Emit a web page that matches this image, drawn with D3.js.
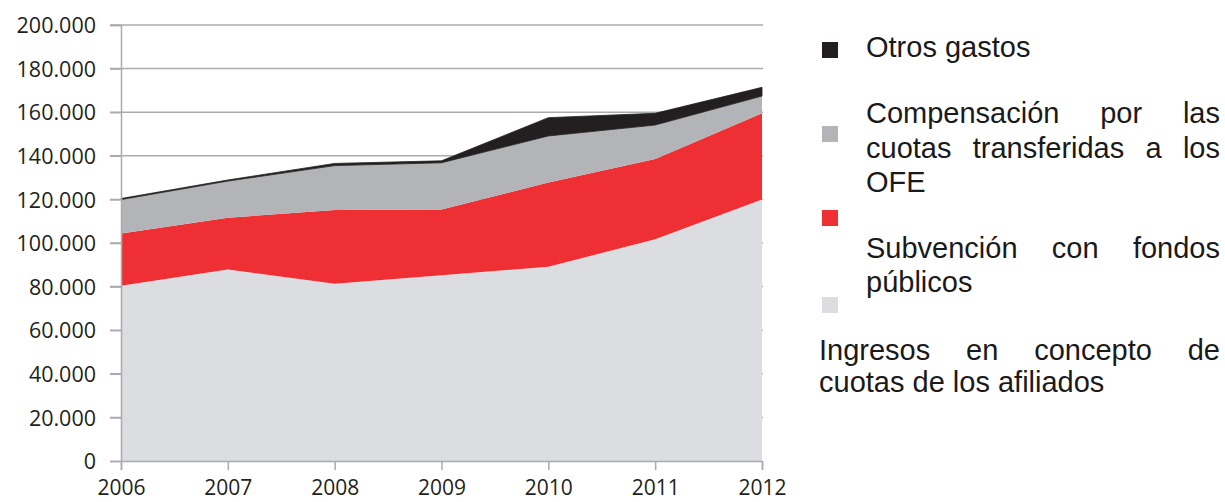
<!DOCTYPE html>
<html><head><meta charset="utf-8">
<script src="https://cdn.jsdelivr.net/npm/d3@7"></script>
<style>
html,body{margin:0;padding:0;background:#fff;}
svg{display:block;}
</style></head>
<body>
<svg id="chart" width="1225" height="502"></svg>
<script>
// ---- data ----
const years = [2006, 2007, 2008, 2009, 2010, 2011, 2012];
const ingresos     = [80400, 87900, 81300, 85200, 89100, 101700, 120000];
const subvencion   = [24000, 23700, 33800, 30200, 38600, 36800, 39500];
const compensacion = [15500, 16800, 20400, 21400, 21400, 15600, 7900];
const otros        = [500, 500, 1000, 900, 8400, 5400, 4000];
const yTicks = [0, 20000, 40000, 60000, 80000, 100000, 120000, 140000, 160000, 180000, 200000];
const seriesKeys = ["ingresos", "subvencion", "compensacion", "otros"];
const seriesColors = {ingresos: "#dcdde0", subvencion: "#ee3035", compensacion: "#b3b4b7", otros: "#231f20"};
const legendItems = [
  {key: "otros", lines: [["Otros gastos", false]]},
  {key: "compensacion", lines: [["Compensación por las", true], ["cuotas transferidas a los", true], ["OFE", false]]},
  {key: "subvencion", lines: [["Subvención con fondos", true], ["públicos", false]]},
  {key: "ingresos", lines: [["Ingresos en concepto de", true], ["cuotas de los afiliados", false]]}
];

// ---- build table ----
const table = years.map((y, i) => ({
  year: y, ingresos: ingresos[i], subvencion: subvencion[i],
  compensacion: compensacion[i], otros: otros[i]
}));

const svg = d3.select("#chart");
const x = d3.scaleLinear().domain([2006, 2012]).range([121, 762]);
const y = d3.scaleLinear().domain([0, 200000]).range([461, 25]);
const loc = d3.formatLocale({decimal: ",", thousands: ".", grouping: [3], currency: ["", ""]});
const fmt = loc.format(",");

const gridColor = "#a9abae";

// gridlines
svg.append("g").selectAll("line").data(yTicks.filter(d => d > 0)).join("line")
  .attr("x1", 110).attr("x2", 763)
  .attr("y1", d => y(d)).attr("y2", d => y(d))
  .attr("stroke", gridColor).attr("stroke-width", 1.5);

// areas
const stack = d3.stack().keys(seriesKeys);
const stacked = stack(table);
const area = d3.area()
  .x(d => x(d.data.year))
  .y0(d => y(d[0]))
  .y1(d => y(d[1]));
svg.append("g").selectAll("path").data(stacked).join("path")
  .attr("d", area)
  .attr("fill", d => seriesColors[d.key])
  .attr("stroke", d => d.key === "otros" ? seriesColors[d.key] : "none")
  .attr("stroke-width", d => d.key === "otros" ? 0.8 : 0);

// y axis
const yAxis = d3.axisLeft(y).tickValues(yTicks).tickFormat(fmt).tickSize(11).tickPadding(14);
const gy = svg.append("g").attr("transform", "translate(121,0)").call(yAxis);
gy.select(".domain").attr("stroke", gridColor).attr("stroke-width", 1.5);
gy.selectAll(".tick line").attr("stroke", gridColor).attr("stroke-width", 1.5);
gy.selectAll(".tick text").attr("fill", "#231f20")
  .style("font-family", "'Open Sans', sans-serif").style("font-size", "21.5px")
  .attr("dy", "0.36em");

// x axis
const xAxis = d3.axisBottom(x).tickValues(years).tickFormat(d3.format("d")).tickSize(9).tickPadding(10);
const gx = svg.append("g").attr("transform", "translate(0,461)").call(xAxis);
gx.select(".domain").attr("stroke", gridColor).attr("stroke-width", 1.5);
gx.selectAll(".tick line").attr("stroke", gridColor).attr("stroke-width", 1.5);
gx.selectAll(".tick text").attr("fill", "#231f20")
  .style("font-family", "'Open Sans', sans-serif").style("font-size", "21px")
  .attr("dy", "0.71em");

// legend
const legendFont = "'Liberation Sans', Arial, sans-serif";
const legendSize = 29;
const rightEdge = 1220;
const swatchY = {otros: 42, compensacion: 126, subvencion: 210, ingresos: 297};
const lineBase = {otros: [57], compensacion: [123, 157.5, 192], subvencion: [258, 292], ingresos: [360, 392]};
const lineX = {otros: 866, compensacion: 866, subvencion: 866, ingresos: 819};
const lg = svg.append("g");
legendItems.forEach(item => {
  lg.append("rect").attr("x", 822).attr("y", swatchY[item.key]).attr("width", 16).attr("height", 16)
    .attr("fill", seriesColors[item.key]);
  item.lines.forEach(([txt, justify], li) => {
    const by = lineBase[item.key][li];
    const x0 = lineX[item.key];
    if (!justify) {
      lg.append("text").attr("x", x0).attr("y", by).text(txt)
        .style("font-family", legendFont).style("font-size", legendSize + "px").attr("fill", "#1a1a1a");
    } else {
      const words = txt.split(" ");
      const nodes = words.map(w => lg.append("text").attr("y", by).text(w)
        .style("font-family", legendFont).style("font-size", legendSize + "px").attr("fill", "#1a1a1a"));
      const widths = nodes.map(n => n.node().getComputedTextLength());
      const total = d3.sum(widths);
      const gap = (rightEdge - x0 - total) / (words.length - 1);
      let cx = x0;
      nodes.forEach((n, i) => { n.attr("x", cx); cx += widths[i] + gap; });
    }
  });
});
</script>
</body></html>
